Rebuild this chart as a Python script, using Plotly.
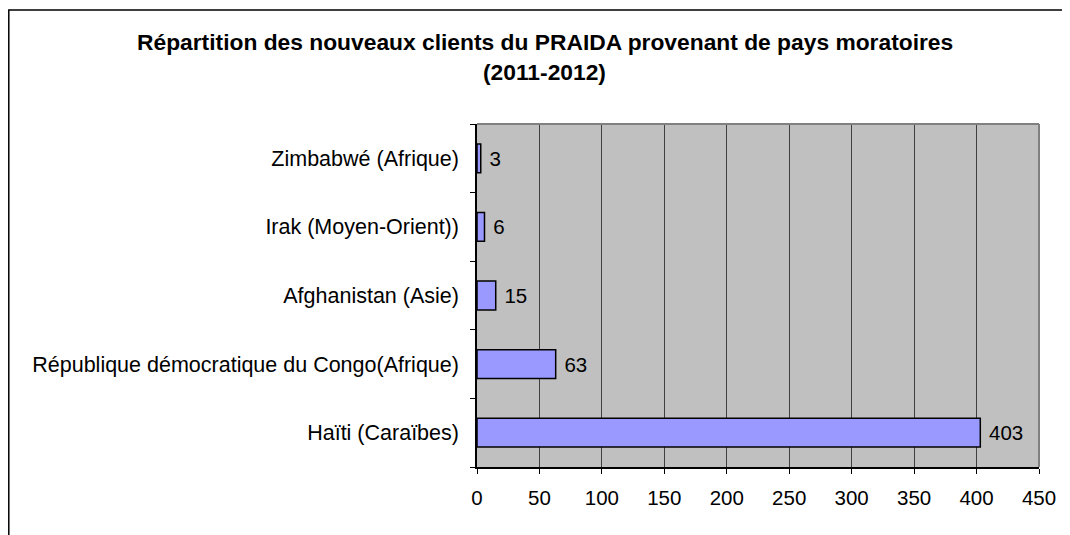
import plotly.graph_objects as go

categories = [
    "Haïti (Caraïbes)",
    "République démocratique du Congo(Afrique)",
    "Afghanistan (Asie)",
    "Irak (Moyen-Orient))",
    "Zimbabwé (Afrique)",
]
values = [403, 63, 15, 6, 3]
x_ticks = [0, 50, 100, 150, 200, 250, 300, 350, 400, 450]
title_line1 = "Répartition des nouveaux clients du PRAIDA provenant de pays moratoires"
title_line2 = "(2011-2012)"

# The page body has an 8px margin, so the figure is sized to fit the window
# and all pixel positions below are in figure coordinates (screen - 8).
W, H = 1062, 527
L, R, T, B = 469, 31, 116, 68
pw, ph = W - L - R, H - T - B

def px_x(p):
    return (p - L) / pw

def px_y(p):
    return (H - B - p) / ph

FONT = "Liberation Sans, Arial, sans-serif"

fig = go.Figure(
    go.Bar(
        y=categories,
        x=values,
        orientation="h",
        width=0.42,
        marker=dict(color="#9999FF", line=dict(color="#000000", width=1.5)),
        text=values,
        texttemplate=" %{x}",
        textposition="outside",
        textfont=dict(family=FONT, size=20.5, color="#000000"),
        cliponaxis=False,
    )
)

fig.update_layout(
    width=W,
    height=H,
    margin=dict(l=L, r=R, t=T, b=B, pad=0, autoexpand=False),
    paper_bgcolor="#FFFFFF",
    plot_bgcolor="#C0C0C0",
    showlegend=False,
    font=dict(family=FONT, size=20, color="#000000"),
    annotations=[
        dict(text="<b>" + title_line1 + "</b>", xref="paper", yref="paper",
             x=px_x(536.5), y=px_y(34), xanchor="center", yanchor="middle",
             showarrow=False, font=dict(family=FONT, size=22.8, color="#000000")),
        dict(text="<b>" + title_line2 + "</b>", xref="paper", yref="paper",
             x=px_x(536.5), y=px_y(64), xanchor="center", yanchor="middle",
             showarrow=False, font=dict(family=FONT, size=22.8, color="#000000")),
    ],
    shapes=[
        # outer chart frame (extends beyond the visible window on right/bottom)
        dict(type="rect", xref="paper", yref="paper",
             x0=px_x(0.8), x1=px_x(1090), y0=px_y(560), y1=px_y(2),
             line=dict(color="#000000", width=1.5), fillcolor="rgba(0,0,0,0)", layer="below"),
        # plot area border (top/right in gray)
        dict(type="line", xref="paper", yref="paper", x0=0, x1=1, y0=1, y1=1,
             line=dict(color="#808080", width=2)),
        dict(type="line", xref="paper", yref="paper", x0=1, x1=1, y0=0, y1=1,
             line=dict(color="#808080", width=2)),
    ],
)

fig.update_xaxes(
    automargin=False,
    range=[0, 450],
    tickvals=x_ticks,
    ticktext=[str(v) for v in x_ticks],
    showgrid=True,
    gridcolor="#404040",
    gridwidth=1,
    zeroline=False,
    showline=True,
    linecolor="#000000",
    linewidth=1.5,
    ticks="outside",
    ticklen=5,
    tickcolor="#000000",
    tickfont=dict(family=FONT, size=20.5, color="#000000"),
    ticklabelstandoff=7,
    fixedrange=True,
)

fig.update_yaxes(
    automargin=False,
    type="category",
    categoryorder="array",
    categoryarray=categories,
    showgrid=False,
    showline=True,
    linecolor="#000000",
    linewidth=1.5,
    ticks="outside",
    tickson="boundaries",
    ticklen=5,
    tickcolor="#000000",
    tickfont=dict(family=FONT, size=21.5, color="#000000"),
    ticklabelstandoff=12,
    fixedrange=True,
)

fig.write_html("out.html")
